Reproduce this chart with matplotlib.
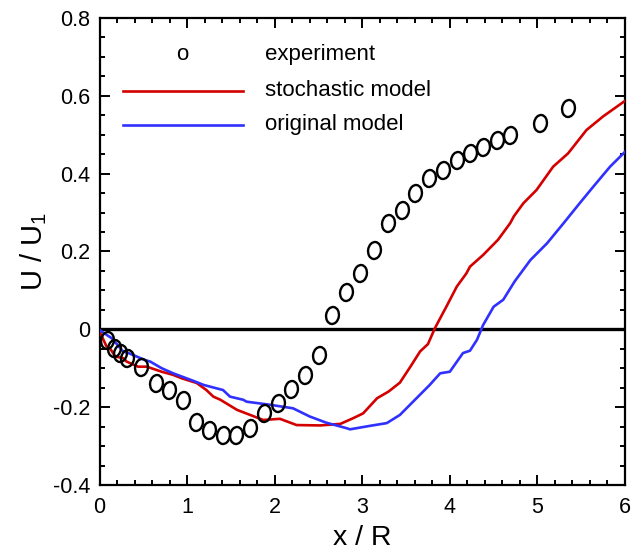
import matplotlib
matplotlib.use("Agg")
import matplotlib.pyplot as plt
from matplotlib.path import Path
from matplotlib.transforms import Affine2D
from matplotlib.ticker import MultipleLocator, FormatStrFormatter

plt.rcParams['font.family'] = ['Liberation Sans', 'DejaVu Sans']
plt.rcParams['mathtext.fontset'] = 'custom'
plt.rcParams['mathtext.rm'] = 'Liberation Sans'
plt.rcParams['axes.unicode_minus'] = False

# experiment (open circles)
x_exp = [0.08, 0.16, 0.23, 0.31, 0.47, 0.645, 0.79, 0.95, 1.10, 1.25, 1.41, 1.56,
         1.72, 1.88, 2.04, 2.19, 2.35, 2.51, 2.66, 2.82, 2.98, 3.13, 3.29, 3.45,
         3.60, 3.76, 3.92, 4.08, 4.23, 4.38, 4.54, 4.69, 5.03, 5.35]
y_exp = [-0.027, -0.049, -0.060, -0.074, -0.096, -0.138, -0.156, -0.181, -0.237,
         -0.260, -0.271, -0.271, -0.253, -0.216, -0.190, -0.154, -0.117, -0.066,
         0.037, 0.097, 0.145, 0.204, 0.273, 0.307, 0.350, 0.389, 0.410, 0.435,
         0.453, 0.469, 0.486, 0.499, 0.530, 0.569]

# stochastic model
x_sto = [0.0, 0.08, 0.12, 0.18, 0.27, 0.31, 0.44, 0.54, 0.71, 0.84, 0.94, 1.11,
         1.22, 1.30, 1.38, 1.57, 1.87, 2.06, 2.25, 2.52, 2.75, 2.90, 3.01, 3.17,
         3.30, 3.43, 3.55, 3.66, 3.75, 3.83, 3.91, 3.96, 4.02, 4.08, 4.19, 4.23,
         4.38, 4.55, 4.69, 4.73, 4.84, 4.99, 5.18, 5.35, 5.56, 5.75, 6.0]
y_sto = [-0.005, -0.044, -0.049, -0.070, -0.074, -0.083, -0.096, -0.096, -0.109,
         -0.117, -0.126, -0.138, -0.156, -0.173, -0.181, -0.207, -0.233, -0.230,
         -0.246, -0.247, -0.243, -0.228, -0.216, -0.177, -0.160, -0.137, -0.096,
         -0.057, -0.038, 0.003, 0.037, 0.058, 0.084, 0.110, 0.144, 0.161, 0.191,
         0.230, 0.273, 0.290, 0.324, 0.358, 0.418, 0.452, 0.512, 0.547, 0.587]

# original model
x_ori = [0.0, 0.14, 0.27, 0.33, 0.52, 0.58, 0.71, 0.84, 1.09, 1.19, 1.41, 1.49,
         1.64, 1.68, 1.95, 2.21, 2.40, 2.59, 2.82, 2.86, 3.09, 3.28, 3.43, 3.58,
         3.77, 3.89, 4.00, 4.15, 4.23, 4.31, 4.38, 4.50, 4.61, 4.74, 4.92, 5.11,
         5.30, 5.49, 5.64, 5.83, 6.0]
y_ori = [-0.002, -0.023, -0.057, -0.061, -0.079, -0.083, -0.100, -0.113, -0.134,
         -0.143, -0.156, -0.173, -0.181, -0.186, -0.194, -0.203, -0.224, -0.240,
         -0.254, -0.257, -0.248, -0.241, -0.220, -0.186, -0.143, -0.113, -0.109,
         -0.061, -0.055, -0.027, 0.011, 0.058, 0.076, 0.123, 0.178, 0.221, 0.273,
         0.326, 0.367, 0.418, 0.456]

# slightly tilted ellipse for the experimental points
ell = Path.unit_circle().transformed(Affine2D().scale(0.75, 1.0).rotate_deg(-8))

fig = plt.figure(figsize=(6.42, 5.53), dpi=100)
ax = fig.add_axes([0.155, 0.123, 0.8185, 0.8445])

ax.axhline(0, color='black', lw=2.4, zorder=1)
ax.plot(x_sto, y_sto, color='#d40000', lw=1.9, zorder=3)
ax.plot(x_ori, y_ori, color='#3030ff', lw=1.9, zorder=3)
ax.plot(x_exp, y_exp, linestyle='none', marker=ell, markersize=12.5,
        markerfacecolor='none', markeredgecolor='black', markeredgewidth=1.7, zorder=4)

ax.set_xlim(0, 6)
ax.set_ylim(-0.4, 0.8)
ax.xaxis.set_major_locator(MultipleLocator(1))
ax.xaxis.set_minor_locator(MultipleLocator(0.2))
ax.yaxis.set_major_locator(MultipleLocator(0.2))
ax.yaxis.set_minor_locator(MultipleLocator(0.05))
ax.yaxis.set_major_formatter(FormatStrFormatter('%g'))
ax.tick_params(which='both', direction='in', top=True, right=True, width=1.4)
ax.tick_params(which='major', length=7)
ax.tick_params(which='minor', length=3.5)
ax.tick_params(axis='y', which='major', labelsize=15.5, pad=6.5)
ax.tick_params(axis='x', which='major', labelsize=15.5, pad=8.5)
for s in ax.spines.values():
    s.set_linewidth(1.6)

ax.set_xlabel('x / R', fontsize=20.5)
ax.set_ylabel('U / U$_1$', fontsize=21)
ax.xaxis.set_label_coords(0.5, -0.086)
ax.yaxis.set_label_coords(-0.096, 0.5)

# legend drawn by hand
tr = ax.transAxes
ax.text(0.158, 0.921, 'o', transform=tr, fontsize=16, ha='center', va='center')
ax.plot([0.044, 0.2725], [0.844, 0.844], color='#d40000', lw=1.9, transform=tr)
ax.plot([0.044, 0.2725], [0.771, 0.771], color='#3030ff', lw=1.9, transform=tr)
ax.text(0.315, 0.921, 'experiment', transform=tr, fontsize=16, va='center')
ax.text(0.315, 0.844, 'stochastic model', transform=tr, fontsize=16, va='center')
ax.text(0.315, 0.771, 'original model', transform=tr, fontsize=16, va='center')

fig.savefig('out.png', dpi=100)
